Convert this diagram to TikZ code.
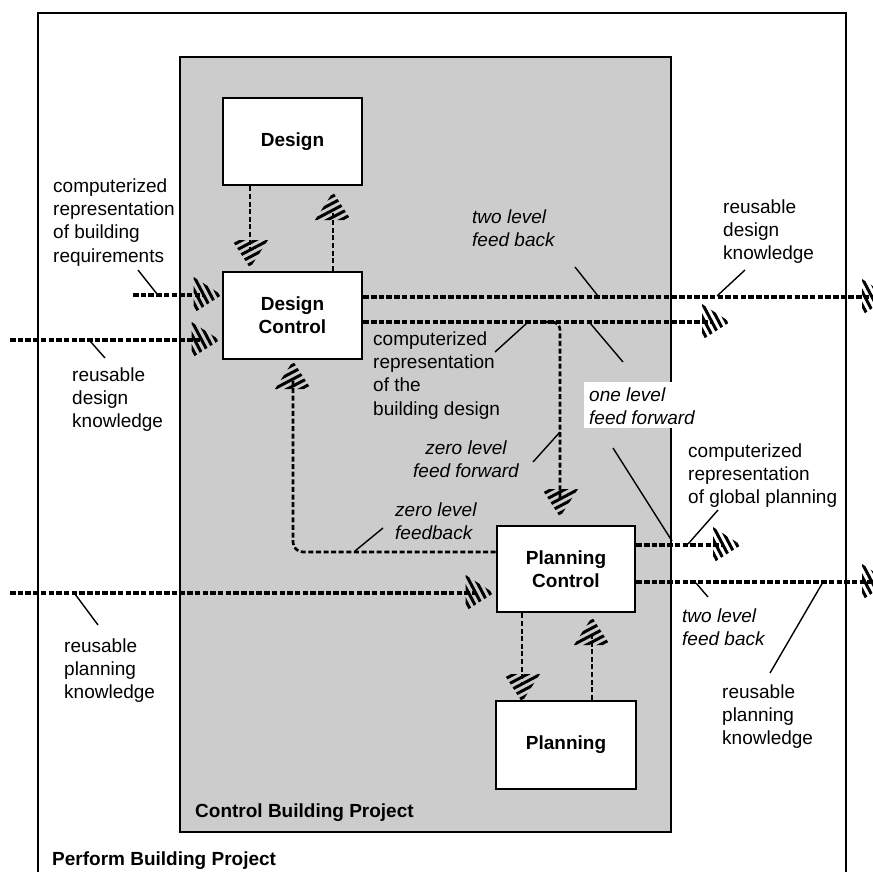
\documentclass[tikz,border=0pt]{standalone}
\usepackage{fontspec}
\setmainfont{Liberation Sans}
\usetikzlibrary{calc}
\begin{document}
\begin{tikzpicture}[x=1pt,y=-1pt,
  txt/.style={font=\fontsize{19}{23.3}\selectfont},
  box/.style={draw, line width=2.6pt, fill=white, minimum width=139pt, minimum height=87pt, inner sep=0pt, font=\fontsize{19}{23.3}\selectfont\bfseries, align=center},
  lbl/.style={inner sep=0pt, anchor=north west, align=left, txt},
  ilbl/.style={lbl, font=\fontsize{19}{23.3}\selectfont\itshape},
  blbl/.style={inner sep=0pt, anchor=base west, font=\fontsize{19}{23.3}\selectfont\bfseries},
  lead/.style={line width=1.4pt},
  hline/.style={line width=3.4pt, dash pattern=on 5.5pt off 2.2pt, shorten >=17pt},
  vline/.style={line width=2.6pt, dash pattern=on 5pt off 2.6pt, shorten >=17pt},
  hhead/.pic={
    \begin{scope}
      \clip (1,0) -- (-27,-18) -- (-27,18) -- cycle;
      \foreach \k in {0,...,4}{
        \draw[line width=3pt] (-13-7*\k,-19) -- (7-7*\k,19);
      }
    \end{scope}
  }
]
\useasboundingbox (0,0) rectangle (873,872);
\clip (0,0) rectangle (873,872);

% frames
\draw[line width=2.6pt] (38,885) -- (38,13) -- (846,13) -- (846,885);
\draw[line width=2.6pt, fill=black!20] (180,57) rectangle (671,832);

% boxes
\node[box] (design) at (292.5,141.5) {Design};
\node[box] (dc) at (292.5,315.5) {Design\\Control};
\node[box, minimum width=138pt, minimum height=86pt] (pc) at (566,569) {Planning\\Control};
\node[box, minimum width=140pt, minimum height=88pt] (plan) at (566,745) {Planning};

% coordinates (tips and free ends)
\coordinate (t1) at (250,267);
\coordinate (t2) at (333,193);
\coordinate (s3) at (133,295);
\coordinate (t3) at ($(s3 -| dc.west)+(-1,0)$);
\coordinate (s4) at (10,340);
\coordinate (t4) at ($(s4 -| dc.west)+(-3,0)$);
\coordinate (e5) at (889,297);
\coordinate (e6) at (729,322);
\coordinate (b7) at (545,322);
\coordinate (t7) at (560,516);
\coordinate (c8) at (293,552);
\coordinate (t8) at (293,362);
\coordinate (s9) at (10,593);
\coordinate (t9) at ($(s9 -| pc.west)+(-3,0)$);
\coordinate (e10) at (740,545);
\coordinate (e11) at (889,582);
\coordinate (t12) at (522,701);
\coordinate (t13) at (592,618);

% connectors
\draw[vline] (design.south -| t1) -- (t1);
\draw[vline] (dc.north -| t2) -- (t2);
\draw[hline] (s3) -- (t3);
\draw[hline] (s4) -- (t4);
\draw[hline] (dc.east |- e5) -- (e5);
\draw[hline] (dc.east |- e6) -- (e6);
\draw[vline,rounded corners=8pt] (b7) -- (b7 -| t7) -- (t7);
\draw[vline,rounded corners=10pt] (pc.west |- c8) -- (c8) -- (t8);
\draw[hline] (s9) -- (t9);
\draw[hline] (pc.east |- e10) -- (e10);
\draw[hline] (pc.east |- e11) -- (e11);
\draw[vline] (pc.south -| t12) -- (t12);
\draw[vline] (plan.north -| t13) -- (t13);

% hatched arrowheads
\pic[rotate=-90] at (t1) {hhead};
\pic[rotate=90] at (t2) {hhead};
\pic at (t3) {hhead};
\pic at (t4) {hhead};
\pic at (e5) {hhead};
\pic at (e6) {hhead};
\pic[rotate=-90] at (t7) {hhead};
\pic[rotate=90] at (t8) {hhead};
\pic at (t9) {hhead};
\pic at (e10) {hhead};
\pic at (e11) {hhead};
\pic[rotate=-90] at (t12) {hhead};
\pic[rotate=90] at (t13) {hhead};

% labels
\node[lbl] (n1) at (53,175.7) {\strut computerized\\representation\\of building\\requirements};
\node[lbl] (n2) at (72,364.7) {\strut reusable\\design\\knowledge};
\node[ilbl] (n3) at (472,206.7) {\strut two level\\feed back};
\node[lbl] (n4) at (723,196.7) {\strut reusable\\design\\knowledge};
\node[lbl] (n5) at (373,328.7) {\strut computerized\\representation\\of the\\building design};
\node[ilbl, fill=white, inner xsep=5pt, inner ysep=3pt] (n6) at (584,381.7) {\strut one level\\feed forward};
\node[ilbl, anchor=north, align=center] (n7) at (466,437.7) {\strut zero level\\feed forward};
\node[ilbl] (n8) at (395,499.7) {\strut zero level\\feedback};
\node[lbl] (n9) at (64,635.7) {\strut reusable\\planning\\knowledge};
\node[lbl] (n10) at (688,440.7) {\strut computerized\\representation\\of global planning};
\node[ilbl] (n11) at (682,605.7) {\strut two level\\feed back};
\node[lbl] (n12) at (722,681.7) {\strut reusable\\planning\\knowledge};
\node[blbl] (n13) at (195,817) {Control Building Project};
\node[blbl] (n14) at (52,865) {Perform Building Project};

% leader lines
\coordinate (l1a) at (138,270); \coordinate (l1b) at (157,294);
\coordinate (l2a) at (90,341);  \coordinate (l2b) at (105,358);
\coordinate (l3a) at (575,267); \coordinate (l3b) at (598,296);
\coordinate (l4a) at (745,270); \coordinate (l4b) at (717,296);
\coordinate (l5a) at (495,352); \coordinate (l5b) at (527,323);
\coordinate (l6a) at (590,323); \coordinate (l6b) at (623,362);
\coordinate (l7a) at (613,448); \coordinate (l7b) at (672,541);
\coordinate (l8a) at (533,462); \coordinate (l8b) at (560,432);
\coordinate (l9a) at (383,528); \coordinate (l9b) at (355,551);
\coordinate (l10a) at (75,594); \coordinate (l10b) at (98,625);
\coordinate (l11a) at (718,510); \coordinate (l11b) at (688,544);
\coordinate (l12a) at (696,583); \coordinate (l12b) at (708,597);
\coordinate (l13a) at (770,673); \coordinate (l13b) at (823,582);
\foreach \a/\b in {l1a/l1b,l2a/l2b,l3a/l3b,l4a/l4b,l5a/l5b,l6a/l6b,l7a/l7b,l8a/l8b,l9a/l9b,l10a/l10b,l11a/l11b,l12a/l12b,l13a/l13b}
  \draw[lead] (\a) -- (\b);
\end{tikzpicture}
\end{document}
